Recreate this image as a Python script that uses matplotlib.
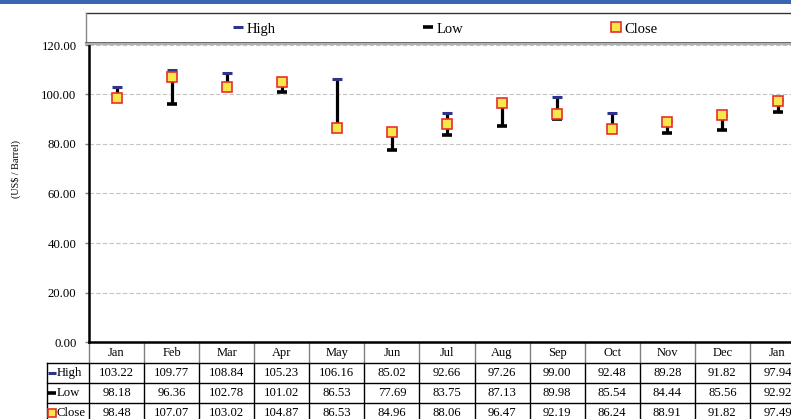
import matplotlib
matplotlib.use('Agg')
import matplotlib.pyplot as plt
from matplotlib.patches import Rectangle
from matplotlib.lines import Line2D
import matplotlib.transforms as mtransforms

months = ['Jan', 'Feb', 'Mar', 'Apr', 'May', 'Jun', 'Jul', 'Aug', 'Sep', 'Oct', 'Nov', 'Dec', 'Jan']
high = [103.22, 109.77, 108.84, 105.23, 106.16, 85.02, 92.66, 97.26, 99.00, 92.48, 89.28, 91.82, 97.94]
low = [98.18, 96.36, 102.78, 101.02, 86.53, 77.69, 83.75, 87.13, 89.98, 85.54, 84.44, 85.56, 92.92]
close = [98.48, 107.07, 103.02, 104.87, 86.53, 84.96, 88.06, 96.47, 92.19, 86.24, 88.91, 91.82, 97.49]
series_names = ['High', 'Low', 'Close']
yticks = [0, 20, 40, 60, 80, 100, 120]
ylabel = '(US$ / Barrel)'

plt.rcParams['font.family'] = ['Liberation Serif', 'DejaVu Serif']

W, H = 791, 419
fig = plt.figure(figsize=(W / 100, H / 100), dpi=100)
fig.patch.set_facecolor('white')

# axes: left 89px, top 45px, bottom 342px, 13 columns of ~55.08px
colw = 55.08
ax = fig.add_axes([89 / W, (H - 342) / H, 13 * colw / W, 297 / H])

HIGH_C = '#2f3488'
CLOSE_FC = '#f4e84a'
CLOSE_EC = '#e8302a'

x = list(range(len(months)))
ax.vlines(x, low, high, colors='black', lw=2.3, zorder=3)
ax.plot(x, low, ls='none', marker='_', ms=7, mew=2.6, color='black', zorder=4)
ax.plot(x, high, ls='none', marker='_', ms=7, mew=2.2, color=HIGH_C, zorder=4)
ax.plot(x, close, ls='none', marker='s', ms=6.5, mfc=CLOSE_FC, mec=CLOSE_EC, mew=1.2, zorder=5)

ax.set_xlim(-0.5, len(months) - 0.5)
ax.set_ylim(0, 120)
ax.set_yticks(yticks)
ax.set_yticklabels(['%.2f' % v for v in yticks])
ax.set_xticks([])
ax.yaxis.grid(True, color='#c4c4c4', linestyle=(0, (4, 2)), lw=0.8)
ax.set_axisbelow(True)
for s in ['top', 'right']:
    ax.spines[s].set_visible(False)
ax.spines['left'].set_linewidth(1.8)
ax.spines['bottom'].set_linewidth(1.8)
ax.tick_params(axis='y', length=3, width=1, color='#808080', labelsize=9.2, pad=6)

fig.text(16 / W, (H - 169) / H, ylabel, rotation=90, ha='center', va='center', fontsize=7.3)

# top blue band
fig.patches.append(Rectangle((0, (H - 4.5) / H), 1, 4.5 / H, transform=fig.transFigure,
                             facecolor='#3b65b0', edgecolor='none'))

# legend box
lx0 = 86 / W
ly_top = (H - 13) / H
ly_bot = (H - 43) / H
fig.patches.append(Rectangle((lx0, ly_bot), 1.0, ly_top - ly_bot, transform=fig.transFigure,
                             facecolor='white', edgecolor='none', zorder=1))
fig.lines.append(Line2D([lx0, 1], [ly_top, ly_top], transform=fig.transFigure, color='#333333', lw=1.0))
fig.lines.append(Line2D([lx0, lx0], [ly_bot, ly_top], transform=fig.transFigure, color='#888888', lw=1.0))
fig.lines.append(Line2D([lx0, 1], [ly_bot, ly_bot], transform=fig.transFigure, color='#444444', lw=1.2))
fig.lines.append(Line2D([lx0, 1], [(H - 44.5) / H, (H - 44.5) / H], transform=fig.transFigure,
                        color='#b0b0b0', lw=1.6))

handles = [
    Line2D([], [], ls='none', marker='_', ms=7, mew=2.2, color=HIGH_C),
    Line2D([], [], ls='none', marker='_', ms=7, mew=2.6, color='black'),
    Line2D([], [], ls='none', marker='s', ms=6.5, mfc=CLOSE_FC, mec=CLOSE_EC, mew=1.2),
]
fig.legend(handles, series_names, ncol=3, loc='center', bbox_to_anchor=(445 / W, (H - 29) / H),
           frameon=False, fontsize=10.5, columnspacing=10.1, handlelength=0.7,
           handletextpad=0.25, borderpad=0, borderaxespad=0)

# data table
tr = mtransforms.blended_transform_factory(ax.transData, ax.transAxes)


def yp(p):
    return (342 - p) / 297


n = len(months)
xl = -0.5 - 42 / colw
rows_top = [363, 383, 403]
# horizontal lines
for p in rows_top + [423]:
    ax.add_line(Line2D([xl, n - 0.5], [yp(p), yp(p)], transform=tr, color='black', lw=1.0, clip_on=False))
# header verticals (gray)
for i in range(n + 1):
    ax.add_line(Line2D([i - 0.5, i - 0.5], [yp(342), yp(363)], transform=tr, color='#808080',
                       lw=1.0, clip_on=False))
# data verticals
for xv in [xl] + [i - 0.5 for i in range(n + 1)]:
    ax.add_line(Line2D([xv, xv], [yp(363), yp(423)], transform=tr, color='black', lw=1.0, clip_on=False))

for i, m in enumerate(months):
    ax.text(i, yp(353), m, transform=tr, ha='center', va='center', fontsize=9, clip_on=False)
for r, vals in enumerate([high, low, close]):
    yc = yp(373 + 20 * r)
    for i, v in enumerate(vals):
        ax.text(i, yc, '%.2f' % v, transform=tr, ha='center', va='center', fontsize=9.2, clip_on=False)

# row labels with keys
key_x = -0.5 - (89 - 52) / colw
txt_x = -0.5 - (89 - 56.5) / colw
key_styles = [
    dict(marker='_', ms=5.5, mew=2.2, color=HIGH_C),
    dict(marker='_', ms=5.5, mew=2.6, color='black'),
    dict(marker='s', ms=5.5, mfc=CLOSE_FC, mec=CLOSE_EC, mew=1.2),
]
for r, name in enumerate(series_names):
    yc = yp(373 + 20 * r)
    ax.plot([key_x], [yc], ls='none', transform=tr, clip_on=False, **key_styles[r])
    ax.text(txt_x, yc, name, transform=tr, ha='left', va='center', fontsize=9.2, clip_on=False)

fig.savefig('out.png', dpi=100)
